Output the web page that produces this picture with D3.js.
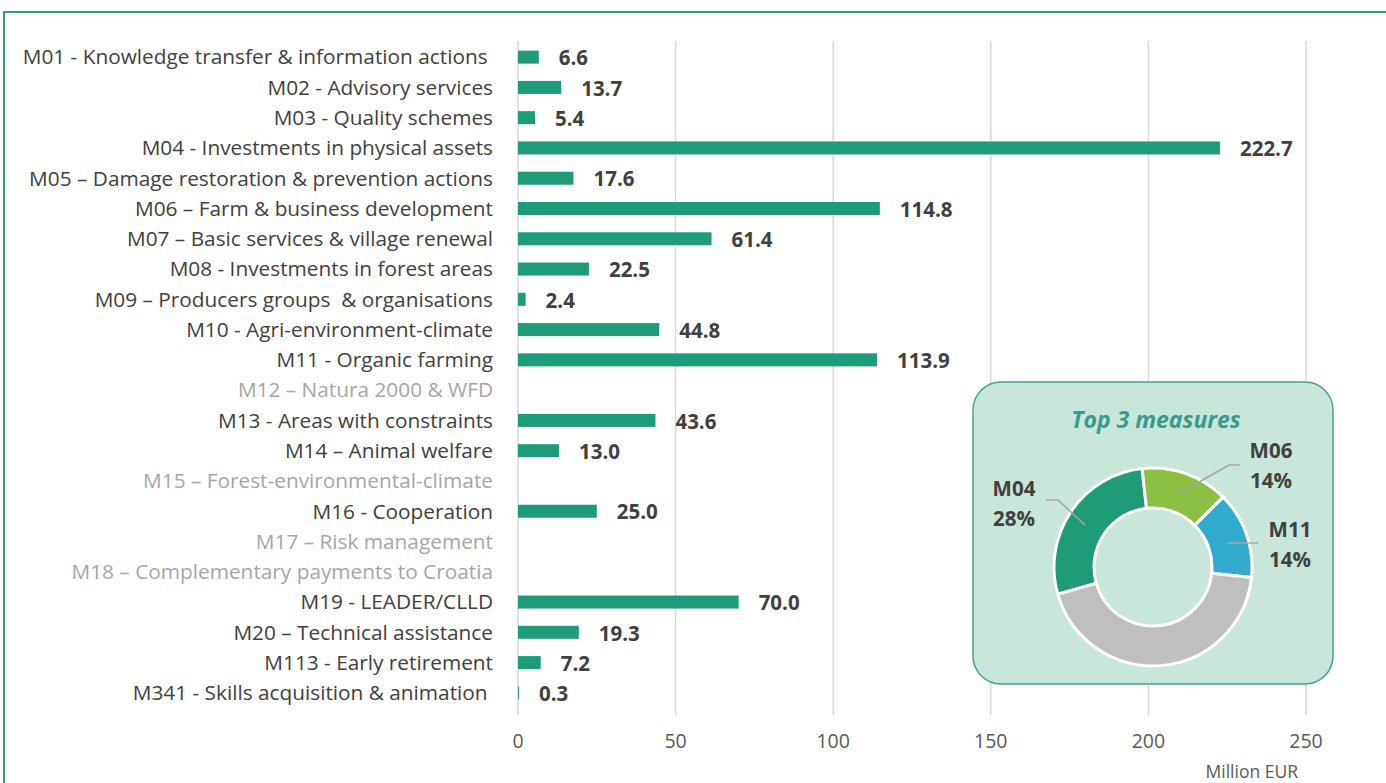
<!DOCTYPE html>
<html>
<head>
<meta charset="utf-8">
<script src="https://cdn.jsdelivr.net/npm/d3@7"></script>
<style>
  body { margin: 0; background: #fff; }
  svg { display: block; }
</style>
</head>
<body>
<div id="chart"></div>
<script>
// Measures and committed amounts (Million EUR), null = no bar
var measures = [
  "M01 - Knowledge transfer & information actions ",
  "M02 - Advisory services",
  "M03 - Quality schemes",
  "M04 - Investments in physical assets",
  "M05 \u2013 Damage restoration & prevention actions",
  "M06 \u2013 Farm & business development",
  "M07 \u2013 Basic services & village renewal",
  "M08 - Investments in forest areas",
  "M09 \u2013 Producers groups  & organisations",
  "M10 - Agri-environment-climate",
  "M11 - Organic farming",
  "M12 \u2013 Natura 2000 & WFD",
  "M13 - Areas with constraints",
  "M14 \u2013 Animal welfare",
  "M15 \u2013 Forest-environmental-climate",
  "M16 - Cooperation",
  "M17 \u2013 Risk management",
  "M18 \u2013 Complementary payments to Croatia",
  "M19 - LEADER/CLLD",
  "M20 \u2013 Technical assistance",
  "M113 - Early retirement",
  "M341 - Skills acquisition & animation "
]
var amounts = [6.6, 13.7, 5.4, 222.7, 17.6, 114.8, 61.4, 22.5, 2.4, 44.8, 113.9,
  null, 43.6, 13.0, null, 25.0, null, null, 70.0, 19.3, 7.2, 0.3]
var xTicks = [0, 50, 100, 150, 200, 250]

// Top 3 donut
var donutNames = ["M04", "M06", "M11", "Other"]
var donutValues = [222.7, 114.8, 113.9, 352.8]
var donutLabels = ["28%", "14%", "14%", null]

var width = 1386, height = 783
var barColor = '#1e9b78'
var textColor = '#404040'
var font = "'Open Sans', sans-serif"

var svg = d3.select("#chart").append("svg")
  .attr("width", width)
  .attr("height", height)

// frame
svg.append("rect")
  .attr("x", 4).attr("y", 12)
  .attr("width", 1500).attr("height", 900)
  .attr("fill", "none")
  .attr("stroke", "#2f9e80")
  .attr("stroke-width", 2)

var x = d3.scaleLinear().domain([0, 250]).range([518, 1306])
var y = d3.scaleBand().domain(measures).range([42, 708])
  .paddingInner(0.57).paddingOuter(0.285)

// gridlines
svg.append("g").selectAll("line")
  .data(xTicks).enter().append("line")
  .attr("x1", d => x(d)).attr("x2", d => x(d))
  .attr("y1", 41).attr("y2", 715)
  .attr("stroke", "#d9d9d9").attr("stroke-width", 1.5)

// tick labels
svg.append("g").selectAll("text")
  .data(xTicks).enter().append("text")
  .attr("x", d => x(d)).attr("y", 748)
  .attr("text-anchor", "middle")
  .style("font-family", font).style("font-size", "19.5px")
  .attr("fill", "#595959")
  .text(d => d)

svg.append("text")
  .attr("x", 1298).attr("y", 778)
  .attr("text-anchor", "end")
  .style("font-family", font).style("font-size", "17.5px")
  .attr("fill", "#595959")
  .text("Million EUR")

// category labels
svg.append("g").selectAll("text")
  .data(measures).enter().append("text")
  .attr("x", 493)
  .attr("y", d => y(d) + y.bandwidth() / 2)
  .attr("dy", "0.35em")
  .attr("text-anchor", "end")
  .style("font-family", font).style("font-size", "20.8px")
  .style("white-space", "pre")
  .attr("fill", (d, i) => amounts[i] == null ? '#a6a6a6' : textColor)
  .text(d => d)

var rows = measures.map(function(m, i) { return {name: m, value: amounts[i]} })
  .filter(d => d.value != null)

svg.append("g").selectAll("rect")
  .data(rows).enter().append("rect")
  .attr("x", x(0))
  .attr("y", d => y(d.name))
  .attr("width", d => x(d.value) - x(0))
  .attr("height", y.bandwidth())
  .attr("fill", barColor)

svg.append("g").selectAll("text")
  .data(rows).enter().append("text")
  .attr("x", d => x(d.value) + 20)
  .attr("y", d => y(d.name) + y.bandwidth() / 2)
  .attr("dy", "0.4em")
  .style("font-family", font).style("font-size", "20.5px")
  .style("font-weight", "bold")
  .attr("fill", textColor)
  .text(d => d.value.toFixed(1))

// inset box with donut
svg.append("rect")
  .attr("x", 973).attr("y", 382)
  .attr("width", 360).attr("height", 302)
  .attr("rx", 28).attr("ry", 28)
  .attr("fill", "#c8e6d9")
  .attr("stroke", "#4a9e94").attr("stroke-width", 1.5)

svg.append("text")
  .attr("x", 1156).attr("y", 428)
  .attr("text-anchor", "middle")
  .style("font-family", font).style("font-size", "23px")
  .style("font-weight", "bold").style("font-style", "italic")
  .attr("fill", "#3a9a8e")
  .text("Top 3 measures")

var cx = 1153, cy = 567
var donutColors = d3.scaleOrdinal().domain(donutNames)
  .range(['#1e9c78', '#8bc043', '#33abcf', '#bfbfbf'])
var startA = -106 * Math.PI / 180
var pie = d3.pie().sort(null)
  .startAngle(startA).endAngle(startA + 2 * Math.PI)
var arcs = pie(donutValues)
var arc = d3.arc().innerRadius(59).outerRadius(99)

var donut = svg.append("g").attr("transform", "translate(" + cx + "," + cy + ")")
donut.selectAll("path")
  .data(arcs).enter().append("path")
  .attr("d", arc)
  .attr("fill", (d, i) => donutColors(donutNames[i]))
  .attr("stroke", "#fff").attr("stroke-width", 3)

// leader lines and labels
var leaders = [
  {i: 0, pts: [[1046, 500], [1058, 500], [1085, 525]], lx: 1014, ly: 489},
  {i: 1, pts: [[1178, 494], [1229, 465], [1240, 465]], lx: 1271, ly: 451},
  {i: 2, pts: [[1227, 543], [1258, 543]], lx: 1290, ly: 530}
]
var line = d3.line()
leaders.forEach(function(l) {
  svg.append("path")
    .attr("d", line(l.pts))
    .attr("fill", "none")
    .attr("stroke", "#a6a6a6").attr("stroke-width", 1.5)
  var t = svg.append("text")
    .attr("x", l.lx).attr("y", l.ly)
    .attr("text-anchor", "middle")
    .style("font-family", font).style("font-size", "20.5px")
    .style("font-weight", "bold")
    .attr("fill", textColor)
  t.append("tspan").attr("x", l.lx).attr("dy", "0.35em").text(donutNames[l.i])
  t.append("tspan").attr("x", l.lx).attr("dy", "1.45em").text(donutLabels[l.i])
})
</script>
</body>
</html>
